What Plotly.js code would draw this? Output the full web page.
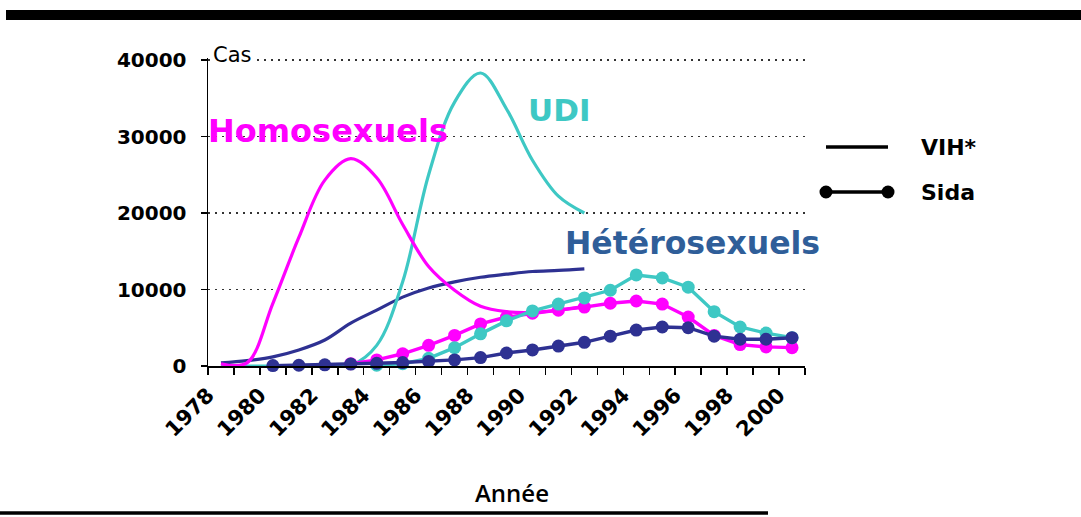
<!DOCTYPE html>
<html>
<head>
<meta charset="utf-8">
<script src="https://cdn.plot.ly/plotly-3.0.1.min.js"></script>
<style>
  html, body { margin: 0; padding: 0; background: #ffffff; }
  #chart { width: 1081px; height: 517px; }
</style>
</head>
<body>
<div id="chart"></div>
<script>
// ---- Data ----
const vihYears = [1978, 1979, 1980, 1981, 1982, 1983, 1984, 1985, 1986, 1987, 1988, 1989, 1990, 1991, 1992];
const vihHomosexuels   = [300, 400, 8200, 16800, 24300, 27100, 24600, 18500, 13000, 9900, 7800, 7100, 7000, 7300, 7800];
const vihUDI           = [0, 0, 0, 0, 0, 100, 2700, 11000, 25000, 34500, 38300, 33600, 26900, 22200, 20000];
const vihHeterosexuels = [400, 700, 1200, 2100, 3400, 5600, 7300, 9000, 10200, 11000, 11600, 12000, 12350, 12500, 12700];

const sidaYears = [1980, 1981, 1982, 1983, 1984, 1985, 1986, 1987, 1988, 1989, 1990, 1991, 1992, 1993, 1994, 1995, 1996, 1997, 1998, 1999, 2000];
const sidaHomosexuels   = [null, null, null, 300, 800, 1600, 2700, 4000, 5500, 6400, 6900, 7300, 7700, 8200, 8500, 8100, 6400, 4000, 2800, 2500, 2400];
const sidaUDI           = [null, null, null, null, 100, 300, 1000, 2400, 4200, 5900, 7200, 8100, 8900, 9900, 11900, 11500, 10300, 7100, 5100, 4300, 3700];
const sidaHeterosexuels = [50, 100, 150, 250, 350, 450, 600, 800, 1100, 1700, 2100, 2600, 3100, 3900, 4700, 5100, 5000, 3900, 3500, 3500, 3700];

const tickYears = [1978, 1980, 1982, 1984, 1986, 1988, 1990, 1992, 1994, 1996, 1998, 2000];
const tickLabels = tickYears.map(String);
const yTicks = [0, 10000, 20000, 30000, 40000];
const yTickLabels = ['0', '10000', '20000', '30000', '40000'];

const groupLabels = ['Homosexuels', 'UDI', 'Hétérosexuels'];
const legendLabels = ['VIH*', 'Sida'];
const yAxisLabel = 'Cas';
const xAxisLabel = 'Année';

// ---- Styles ----
const MAGENTA = '#FF00FF';
const TURQ = '#3EC8C4';
const NAVY = '#2E3192';
const HETERO_TXT = '#2F5E99';
const FONT = 'DejaVu Sans, Liberation Sans, Arial, sans-serif';

// category boundaries (tick marks sit between years; rotated labels hang from the left boundary)
const boundaries = [];
for (let y = 1977.5; y <= 2000.5; y += 1) boundaries.push(y);
const labelPositions = tickYears.map(y => y - 0.5);

function vihTrace(y, color) {
  return {
    x: vihYears, y: y, type: 'scatter', mode: 'lines',
    line: { color: color, width: 3.2, shape: 'spline', smoothing: 1 },
    showlegend: false
  };
}
function sidaTrace(y, color) {
  return {
    x: sidaYears, y: y, type: 'scatter', mode: 'lines+markers',
    line: { color: color, width: 3.4 },
    marker: { color: color, size: 13 },
    connectgaps: false, showlegend: false, cliponaxis: false
  };
}

const data = [
  vihTrace(vihHeterosexuels, NAVY),
  vihTrace(vihUDI, TURQ),
  vihTrace(vihHomosexuels, MAGENTA),
  sidaTrace(sidaHomosexuels, MAGENTA),
  sidaTrace(sidaUDI, TURQ),
  sidaTrace(sidaHeterosexuels, NAVY)
];

// plot area: x 208..805 px; y: 0 at 366 px, 40000 at 60 px (top edge slightly above)
const L = 208, R = 805, T = 58, B = 366;
const YMAX = 40000 * (B - T) / (B - 60);
const px = v => (v - L) / (R - L);
const py = v => (B - v) / (B - T);

const layout = {
  width: 1081, height: 517,
  margin: { l: L, r: 1081 - R, t: T, b: 517 - B, pad: 0 },
  paper_bgcolor: '#ffffff', plot_bgcolor: '#ffffff',
  showlegend: false,
  font: { family: FONT, color: '#000000' },
  xaxis: {
    range: [1977.5, 2000.5],
    tickmode: 'array', tickvals: labelPositions, ticktext: tickLabels,
    tickangle: -45, ticks: '', ticklen: 0,
    ticklabelstandoff: 7,
    tickfont: { family: FONT, size: 21, color: '#000', weight: 'bold' },
    showgrid: false, zeroline: false,
    showline: true, linecolor: '#000', linewidth: 1.5,
    minor: { tickmode: 'array', tickvals: boundaries, ticks: 'outside', ticklen: 7, tickwidth: 1.5, tickcolor: '#000', showgrid: false },
    fixedrange: true
  },
  yaxis: {
    range: [0, YMAX],
    tickmode: 'array', tickvals: yTicks, ticktext: yTickLabels,
    ticks: 'outside', ticklen: 6, tickwidth: 1.5, tickcolor: '#000',
    ticklabelstandoff: 10,
    tickfont: { family: FONT, size: 20, color: '#000', weight: 'bold' },
    showgrid: true, gridcolor: '#333', gridwidth: 1.8, griddash: '2px,5px',
    zeroline: false,
    showline: true, linecolor: '#000', linewidth: 1.5,
    fixedrange: true
  },
  shapes: [
    // top black band
    { type: 'rect', xref: 'paper', yref: 'paper', x0: px(6), x1: px(1090), y0: py(20), y1: py(10), fillcolor: '#000', line: { width: 0 }, layer: 'above' },
    // bottom black rule
    { type: 'line', xref: 'paper', yref: 'paper', x0: px(0), x1: px(768), y0: py(513), y1: py(513), line: { color: '#000', width: 3.5 } },
    // legend: VIH line
    { type: 'line', xref: 'paper', yref: 'paper', x0: px(826), x1: px(888), y0: py(147), y1: py(147), line: { color: '#000', width: 3.5 } },
    // legend: Sida line with dots
    { type: 'line', xref: 'paper', yref: 'paper', x0: px(826), x1: px(888), y0: py(192), y1: py(192), line: { color: '#000', width: 3.5 } },
    { type: 'circle', xref: 'paper', yref: 'paper', xsizemode: 'pixel', ysizemode: 'pixel', xanchor: px(826), yanchor: py(192), x0: -6.5, x1: 6.5, y0: -6.5, y1: 6.5, fillcolor: '#000', line: { width: 0 } },
    { type: 'circle', xref: 'paper', yref: 'paper', xsizemode: 'pixel', ysizemode: 'pixel', xanchor: px(888), yanchor: py(192), x0: -6.5, x1: 6.5, y0: -6.5, y1: 6.5, fillcolor: '#000', line: { width: 0 } }
  ],
  annotations: [
    { text: yAxisLabel, xref: 'paper', yref: 'y', x: px(210), y: 40000, xanchor: 'left', yanchor: 'middle', yshift: 5,
      showarrow: false, bgcolor: '#ffffff', borderpad: 2, font: { family: FONT, size: 21, color: '#000' } },
    { text: groupLabels[0], xref: 'paper', yref: 'paper', x: px(328), y: py(131), xanchor: 'center', yanchor: 'middle',
      showarrow: false, font: { family: FONT, size: 32, color: MAGENTA, weight: 'bold' } },
    { text: groupLabels[1], xref: 'paper', yref: 'paper', x: px(559), y: py(110), xanchor: 'center', yanchor: 'middle',
      showarrow: false, font: { family: FONT, size: 31, color: TURQ, weight: 'bold' } },
    { text: groupLabels[2], xref: 'paper', yref: 'paper', x: px(692), y: py(243), xanchor: 'center', yanchor: 'middle',
      showarrow: false, font: { family: FONT, size: 31.5, color: HETERO_TXT, weight: 'bold' } },
    { text: legendLabels[0], xref: 'paper', yref: 'paper', x: px(919), y: py(147), xanchor: 'left', yanchor: 'middle',
      showarrow: false, font: { family: FONT, size: 22, color: '#000', weight: 'bold' } },
    { text: legendLabels[1], xref: 'paper', yref: 'paper', x: px(919), y: py(192), xanchor: 'left', yanchor: 'middle',
      showarrow: false, font: { family: FONT, size: 22, color: '#000', weight: 'bold' } },
    { text: xAxisLabel, xref: 'paper', yref: 'paper', x: px(512), y: py(492), xanchor: 'center', yanchor: 'middle',
      showarrow: false, font: { family: 'Open Sans, DejaVu Sans, sans-serif', size: 24, color: '#000', weight: 600 } }
  ]
};

Plotly.newPlot('chart', data, layout, { displayModeBar: false, staticPlot: true });
</script>
</body>
</html>
